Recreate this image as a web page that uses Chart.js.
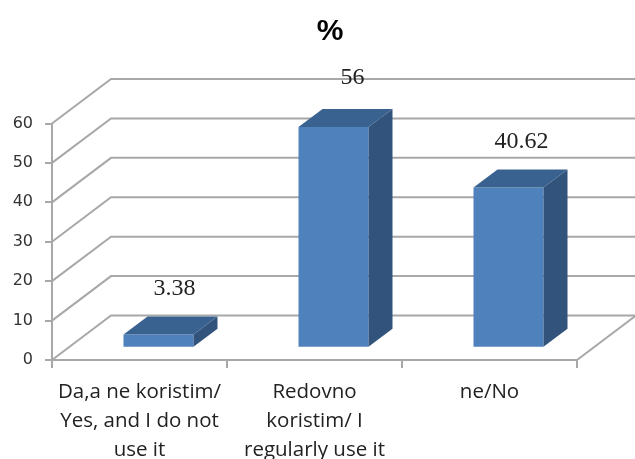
<!DOCTYPE html>
<html>
<head>
<meta charset="utf-8">
<title>%</title>
<script src="https://cdn.jsdelivr.net/npm/chart.js@4"></script>
<style>
  html, body { margin: 0; padding: 0; background: #fff; }
  canvas { display: block; }
</style>
</head>
<body>
<canvas id="chart" width="635" height="459"></canvas>
<script>
const categories = [
    ['Da,a ne koristim/', 'Yes, and I do not', 'use it'],
    ['Redovno', 'koristim/ I', 'regularly use it'],
    'ne/No',
];
const values = [3.38, 56, 40.62];
const valueLabels = ['3.38', '56', '40.62'];

const GRID = '#a8a8a8';
const FRONT = '#4f81bd';
const TOP = '#3a6291';
const SIDE = '#32547c';

// 3D look: wall depth, bar depth, and where the bars sit on the floor
const WALL_DX = 59, WALL_DY = -44.5;
const BAR_DX = 24, BAR_DY = -18;
const BAR_SHIFT_X = 19, BAR_SHIFT_Y = -12.3;
const LABEL_NUDGE = [[16, -46], [19, -49], [13, -46]];

const wallsPlugin = {
    id: 'walls',
    afterLayout(chart) {
        // the title is centred over the whole picture incl. the floor, not the canvas
        chart.titleBlock.left += 25;
    },
    beforeDatasetsDraw(chart) {
        const { ctx, scales: { x, y } } = chart;
        ctx.save();
        ctx.strokeStyle = GRID;
        ctx.lineWidth = 2;
        y.ticks.forEach(t => {
            const py = y.getPixelForValue(t.value);
            ctx.beginPath();
            ctx.moveTo(x.left, py);
            ctx.lineTo(x.left + WALL_DX, py + WALL_DY);
            ctx.lineTo(x.right + WALL_DX, py + WALL_DY);
            ctx.stroke();
        });
        // right edge of the floor
        const py0 = y.getPixelForValue(0);
        ctx.beginPath();
        ctx.moveTo(x.right, py0);
        ctx.lineTo(x.right + WALL_DX, py0 + WALL_DY);
        ctx.stroke();
        ctx.restore();

        // bars stand in the middle of the floor, not on the front edge
        ctx.save();
        ctx.translate(BAR_SHIFT_X, BAR_SHIFT_Y);
    },
    afterDatasetsDraw(chart) {
        const { ctx } = chart;
        const bars = chart.getDatasetMeta(0).data;
        bars.forEach(bar => {
            const half = bar.width / 2;
            const l = bar.x - half, r = bar.x + half, t = bar.y, b = bar.base;

            ctx.fillStyle = TOP;
            ctx.beginPath();
            ctx.moveTo(l, t);
            ctx.lineTo(l + BAR_DX, t + BAR_DY);
            ctx.lineTo(r + BAR_DX, t + BAR_DY);
            ctx.lineTo(r, t);
            ctx.closePath();
            ctx.fill();

            ctx.fillStyle = SIDE;
            ctx.beginPath();
            ctx.moveTo(r, t);
            ctx.lineTo(r + BAR_DX, t + BAR_DY);
            ctx.lineTo(r + BAR_DX, b + BAR_DY);
            ctx.lineTo(r, b);
            ctx.closePath();
            ctx.fill();
        });
        ctx.restore();

        ctx.save();
        ctx.font = '24px "Liberation Serif"';
        ctx.fillStyle = '#222';
        ctx.textAlign = 'center';
        ctx.textBaseline = 'middle';
        bars.forEach((bar, i) => {
            const n = LABEL_NUDGE[i];
            ctx.fillText(valueLabels[i], bar.x + BAR_SHIFT_X + n[0], bar.y + BAR_SHIFT_Y + n[1]);
        });
        ctx.restore();
    },
};

new Chart(document.getElementById('chart'), {
    type: 'bar',
    data: {
        labels: categories,
        datasets: [{
            label: '%',
            data: values,
            backgroundColor: FRONT,
            barPercentage: 0.4,
            categoryPercentage: 1,
            clip: false,
        }],
    },
    plugins: [wallsPlugin],
    options: {
        responsive: false,
        animation: false,
        plugins: {
            legend: { display: false },
            tooltip: { enabled: false },
            title: {
                display: true,
                text: '%',
                color: '#000',
                font: { family: '"Liberation Sans"', size: 30, weight: 'bold' },
                padding: { top: 14, bottom: 73.5 },
            },
        },
        scales: {
            x: {
                offset: true,
                afterFit: s => { s.height = 99; },
                border: { display: true, color: GRID, width: 2 },
                grid: { drawOnChartArea: false, color: GRID, lineWidth: 2, tickLength: 8 },
                ticks: {
                    color: '#222',
                    maxRotation: 0,
                    autoSkip: false,
                    padding: 10,
                    font: { family: '"Open Sans"', size: 20.5, lineHeight: 1.41 },
                },
            },
            y: {
                min: 0,
                max: 60,
                afterFit: s => { s.width = 52; },
                border: { display: true, color: GRID, width: 2 },
                grid: { drawOnChartArea: false, color: GRID, lineWidth: 2, tickLength: 7 },
                ticks: {
                    stepSize: 10,
                    color: '#333',
                    padding: 12,
                    font: { family: '"DejaVu Sans"', size: 16 },
                },
            },
            // empty axis, only keeps the room on the right for the floor
            spacer: {
                position: 'right',
                afterFit: s => { s.width = 58; },
                border: { display: false },
                grid: { display: false },
                ticks: { display: false },
            },
        },
    },
});
</script>
</body>
</html>
